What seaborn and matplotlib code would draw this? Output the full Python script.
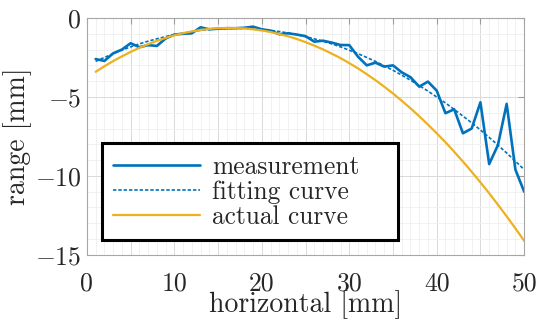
import numpy as np
import pandas as pd
import matplotlib
matplotlib.use("Agg")
import matplotlib.pyplot as plt
import seaborn as sns
from matplotlib.ticker import MultipleLocator

x = list(range(1, 51))
measurement = [-2.60, -2.72, -2.24, -2.00, -1.60, -1.85, -1.72, -1.77, -1.30, -1.05,
               -1.00, -0.97, -0.59, -0.72, -0.68, -0.65, -0.65, -0.62, -0.55, -0.72,
               -0.80, -1.03, -0.97, -1.05, -1.15, -1.50, -1.44, -1.56, -1.71, -1.72,
               -2.45, -3.00, -2.83, -3.08, -3.00, -3.44, -3.75, -4.35, -4.03, -4.60,
               -6.03, -5.78, -7.30, -7.00, -5.34, -9.25, -8.05, -5.44, -9.60, -11.00]
fitting = [-2.75, -2.50, -2.26, -2.04, -1.83, -1.64, -1.47, -1.32, -1.18, -1.05,
           -0.95, -0.86, -0.78, -0.72, -0.68, -0.66, -0.65, -0.66, -0.68, -0.72,
           -0.78, -0.86, -0.95, -1.05, -1.18, -1.32, -1.47, -1.64, -1.83, -2.04,
           -2.26, -2.50, -2.75, -3.03, -3.31, -3.62, -3.94, -4.28, -4.63, -5.00,
           -5.38, -5.79, -6.21, -6.64, -7.09, -7.56, -8.05, -8.55, -9.07, -9.60]
actual = [-3.41, -3.06, -2.73, -2.43, -2.15, -1.89, -1.66, -1.45, -1.26, -1.10,
          -0.96, -0.85, -0.76, -0.69, -0.65, -0.63, -0.64, -0.66, -0.72, -0.79,
          -0.89, -1.02, -1.16, -1.33, -1.53, -1.75, -1.99, -2.26, -2.54, -2.86,
          -3.19, -3.56, -3.94, -4.35, -4.78, -5.24, -5.72, -6.22, -6.75, -7.30,
          -7.87, -8.47, -9.09, -9.74, -10.41, -11.10, -11.82, -12.56, -13.32, -14.11]
labels = ["measurement", "fitting curve", "actual curve"]
x_ticks = [0, 5, 10, 15, 20, 25, 30, 35, 40, 45, 50]
x_ticklabels = ["0", "", "10", "", "20", "", "30", "", "40", "", "50"]
y_ticks = [0, -5, -10, -15]
y_ticklabels = ["$0$", "$-5$", "$-10$", "$-15$"]

sns.set_style("white")
plt.rcParams["font.family"] = ["cmr10", "DejaVu Serif"]
plt.rcParams["mathtext.fontset"] = "cm"
plt.rcParams["axes.unicode_minus"] = False

fig = plt.figure(figsize=(5.5, 3.21), dpi=100)
ax = fig.add_axes([0.158, 0.206, 0.795, 0.738])

df = pd.DataFrame({"x": x, "m": measurement, "f": fitting, "a": actual})
sns.lineplot(data=df, x="x", y="m", ax=ax, color="#0072BD", lw=1.9, label=labels[0])
sns.lineplot(data=df, x="x", y="f", ax=ax, color="#0072BD", lw=1.2,
             linestyle=(0, (2, 1.2)), label=labels[1])
sns.lineplot(data=df, x="x", y="a", ax=ax, color="#EDB120", lw=1.6, label=labels[2])

ax.set_xlim(0, 50)
ax.set_ylim(-15, 0)
ax.set_xticks(x_ticks)
ax.set_xticklabels(x_ticklabels)
ax.set_yticks(y_ticks)
ax.set_yticklabels(y_ticklabels)
ax.xaxis.set_minor_locator(MultipleLocator(1))
ax.yaxis.set_minor_locator(MultipleLocator(1))
ax.grid(True, which="major", color="#d9d9d9", lw=0.7)
ax.grid(True, which="minor", color="#efefef", lw=0.6)
ax.set_axisbelow(True)
ax.tick_params(which="both", direction="in", top=True, right=True,
               color="#9a9a9a", labelsize=18.5, length=4)
ax.tick_params(axis="x", pad=12)
ax.tick_params(axis="y", pad=4)
ax.tick_params(which="minor", length=0)
for s in ax.spines.values():
    s.set_color("#a6a6a6")
    s.set_linewidth(0.8)

ax.set_xlabel("horizontal [mm]", fontsize=20, labelpad=-4)
ax.set_ylabel("range [mm]", fontsize=20, labelpad=2)

leg = ax.legend(loc="lower left", bbox_to_anchor=(0.034, 0.063, 0.677, 0.40),
                mode="expand", fontsize=18.3,
                frameon=True, fancybox=False, framealpha=1, edgecolor="black",
                handlelength=3.4, handletextpad=0.5, borderpad=0.45,
                labelspacing=0.05, borderaxespad=0)
leg.get_frame().set_linewidth(2.2)

fig.savefig("out.png", dpi=100)
